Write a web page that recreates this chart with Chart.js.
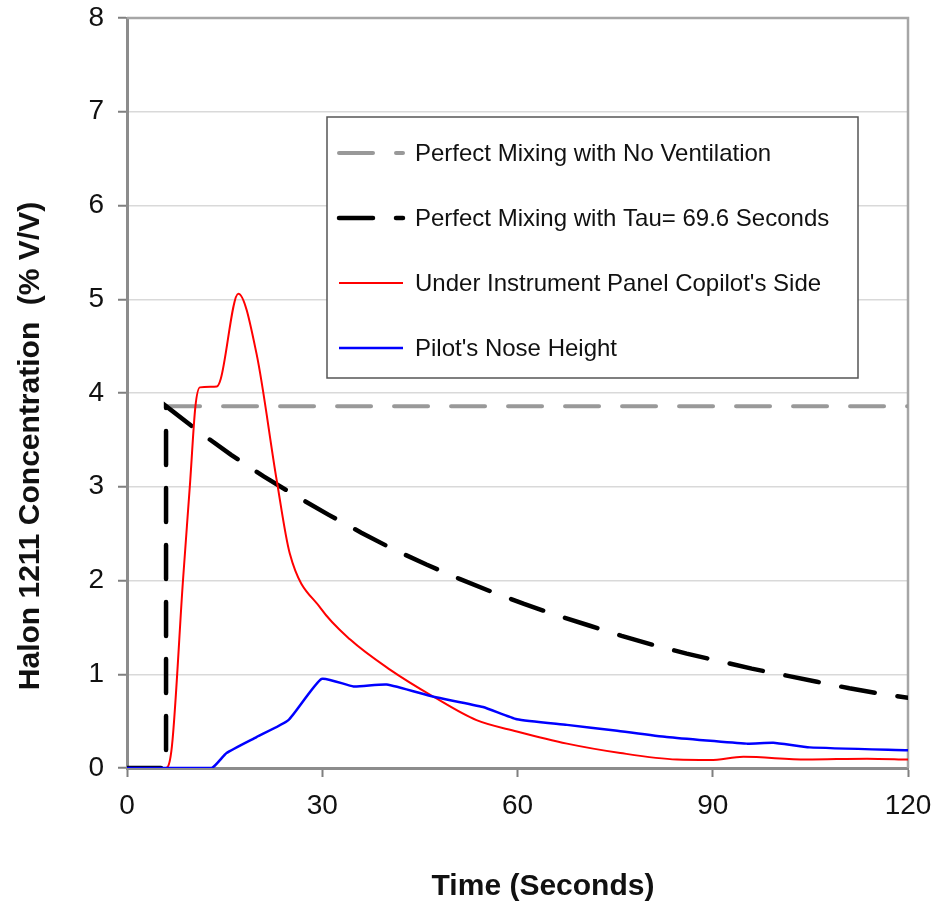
<!DOCTYPE html>
<html>
<head>
<meta charset="utf-8">
<script src="https://cdn.jsdelivr.net/npm/chart.js@4.4.1/dist/chart.umd.min.js"></script>
<style>
  html, body { margin: 0; padding: 0; background: #ffffff; }
  #wrap { width: 935px; height: 907px; }
</style>
</head>
<body>
<div id="wrap"><canvas id="c" width="935" height="907"></canvas></div>
<script>
// ---- Data ----
const seriesNames = [
  "Perfect Mixing with No Ventilation",
  "Perfect Mixing with Tau= 69.6 Seconds",
  "Under Instrument Panel Copilot's Side",
  "Pilot's Nose Height"
];
const xTitle = "Time (Seconds)";
const yTitle = "Halon 1211 Concentration  (% V/V)";
const xTicks = [0, 30, 60, 90, 120];
const yTicks = [0, 1, 2, 3, 4, 5, 6, 7, 8];

// Perfect mixing, no ventilation (time s, %V/V)
const noVentT = [6, 120];
const noVentC = [3.86, 3.86];

// Perfect mixing, tau = 69.6 s
const tauT = [0, 6, 6, 11, 16, 21, 26, 31, 36, 41, 46, 51, 56, 61, 66, 71, 76, 81, 86, 91, 96, 101, 106, 111, 116, 120];
const tauC = [0, 0, 3.86, 3.59, 3.34, 3.11, 2.90, 2.70, 2.51, 2.33, 2.17, 2.02, 1.88, 1.75, 1.63, 1.52, 1.41, 1.31, 1.22, 1.14, 1.06, 0.99, 0.92, 0.85, 0.79, 0.75];

// Under instrument panel, copilot's side
const copilotT = [0, 6, 6.9, 8.6, 9.7, 10.5, 11.2, 13.8, 14.4, 17.1, 19.9, 23.0, 25.0, 29.8, 34.3, 40.4, 47.1, 53.7, 59.9, 67.6, 75.8, 84.5, 89.6, 94.7, 104.4, 113.7, 120];
const copilotC = [0, 0, 0.23, 2.0, 3.05, 3.85, 4.06, 4.07, 4.15, 5.06, 4.42, 3.07, 2.29, 1.70, 1.37, 1.05, 0.76, 0.51, 0.39, 0.26, 0.16, 0.09, 0.085, 0.12, 0.09, 0.10, 0.09];

// Pilot's nose height
const noseT = [0, 13, 15.3, 19.9, 24.8, 29.9, 34.8, 39.9, 47.1, 54.7, 59.9, 67.6, 75.0, 82.9, 95.2, 99.3, 104.9, 120];
const noseC = [0, 0, 0.16, 0.33, 0.51, 0.95, 0.87, 0.89, 0.76, 0.65, 0.52, 0.46, 0.40, 0.33, 0.26, 0.27, 0.22, 0.19];

const toPts = (t, c) => t.map((x, i) => ({ x: x, y: c[i] }));

const FONT = "'Liberation Sans', Arial, sans-serif";

// Plot frame (top / right border) drawn from the chart area
const framePlugin = {
  id: 'frame',
  beforeDatasetsDraw(chart) {
    const { ctx, chartArea: a } = chart;
    ctx.save();
    ctx.strokeStyle = '#a6a6a6';
    ctx.lineWidth = 2.5;
    ctx.beginPath();
    ctx.moveTo(a.left, a.top);
    ctx.lineTo(a.right, a.top);
    ctx.lineTo(a.right, a.bottom);
    ctx.stroke();
    ctx.restore();
  }
};

// Axis titles (placed as in the reference, slightly off-centre)
const titlesPlugin = {
  id: 'axisTitles',
  afterDraw(chart) {
    const { ctx } = chart;
    ctx.save();
    ctx.fillStyle = '#111111';
    ctx.font = "bold 30px " + FONT;
    ctx.textAlign = 'center';
    ctx.textBaseline = 'middle';
    ctx.fillText(xTitle, 543, 887);
    ctx.translate(31, 446);
    ctx.rotate(-Math.PI / 2);
    ctx.fillText(yTitle, 0, 0);
    ctx.restore();
  }
};

// Boxed legend inside the plot, built from the datasets
const legendPlugin = {
  id: 'boxLegend',
  afterDraw(chart) {
    const { ctx } = chart;
    const bx = 327, by = 117, bw = 531, bh = 261;
    ctx.save();
    ctx.fillStyle = '#ffffff';
    ctx.fillRect(bx, by, bw, bh);
    ctx.strokeStyle = '#555555';
    ctx.lineWidth = 1.5;
    ctx.strokeRect(bx, by, bw, bh);
    chart.data.datasets.forEach((ds, i) => {
      const y = 153 + i * 65;
      ctx.beginPath();
      ctx.setLineDash(ds.borderDash || []);
      ctx.lineCap = ds.borderCapStyle || 'butt';
      ctx.lineWidth = ds.borderWidth;
      ctx.strokeStyle = ds.borderColor;
      ctx.moveTo(339, y);
      ctx.lineTo(403, y);
      ctx.stroke();
      ctx.setLineDash([]);
      ctx.fillStyle = '#111111';
      ctx.font = "24px " + FONT;
      ctx.textAlign = 'left';
      ctx.textBaseline = 'middle';
      ctx.fillText(ds.label, 415, y + 1);
    });
    ctx.restore();
  }
};

new Chart(document.getElementById('c'), {
  type: 'line',
  data: {
    datasets: [
      {
        label: seriesNames[0],
        data: toPts(noVentT, noVentC),
        borderColor: '#999999',
        borderWidth: 4,
        borderDash: [34, 23],
        borderCapStyle: 'round',
        pointRadius: 0,
        tension: 0,
        order: 4
      },
      {
        label: seriesNames[1],
        data: toPts(tauT, tauC),
        borderColor: '#000000',
        borderWidth: 4.5,
        borderDash: [34, 23],
        borderCapStyle: 'round',
        pointRadius: 0,
        tension: 0,
        order: 3
      },
      {
        label: seriesNames[2],
        data: toPts(copilotT, copilotC),
        borderColor: '#ff0000',
        borderWidth: 2,
        pointRadius: 0,
        cubicInterpolationMode: 'monotone',
        order: 2
      },
      {
        label: seriesNames[3],
        data: toPts(noseT, noseC),
        borderColor: '#0000ff',
        borderWidth: 2.5,
        pointRadius: 0,
        tension: 0.15,
        order: 1
      }
    ]
  },
  options: {
    responsive: false,
    animation: false,
    devicePixelRatio: 1,
    layout: { padding: { top: 18, right: 27, left: 0, bottom: 0 } },
    plugins: {
      legend: { display: false },
      tooltip: { enabled: false }
    },
    scales: {
      x: {
        type: 'linear',
        min: xTicks[0],
        max: xTicks[xTicks.length - 1],
        afterBuildTicks(scale) { scale.ticks = xTicks.map(v => ({ value: v })); },
        afterFit(scale) {
          scale.height = 139;
          scale.paddingLeft = 0; scale.paddingRight = 0;
          scale.paddingTop = 0; scale.paddingBottom = 0;
        },
        ticks: {
          font: { family: FONT, size: 28 },
          color: '#111111',
          padding: 12,
          maxRotation: 0,
          autoSkip: false
        },
        grid: {
          drawOnChartArea: false,
          drawTicks: true,
          tickLength: 9,
          tickColor: '#7f7f7f',
          tickWidth: 2
        },
        border: { display: true, color: '#8c8c8c', width: 3 }
      },
      y: {
        type: 'linear',
        min: yTicks[0],
        max: yTicks[yTicks.length - 1],
        afterBuildTicks(scale) { scale.ticks = yTicks.map(v => ({ value: v })); },
        afterFit(scale) {
          scale.width = 127;
          scale.paddingLeft = 0; scale.paddingRight = 0;
          scale.paddingTop = 0; scale.paddingBottom = 0;
        },
        ticks: {
          font: { family: FONT, size: 28 },
          color: '#111111',
          padding: 14,
          autoSkip: false
        },
        grid: {
          color: '#d9d9d9',
          lineWidth: 1.5,
          drawTicks: true,
          tickLength: 9,
          tickColor: '#7f7f7f',
          tickWidth: 2
        },
        border: { display: true, color: '#8c8c8c', width: 3 }
      }
    }
  },
  plugins: [framePlugin, legendPlugin, titlesPlugin]
});
</script>
</body>
</html>
